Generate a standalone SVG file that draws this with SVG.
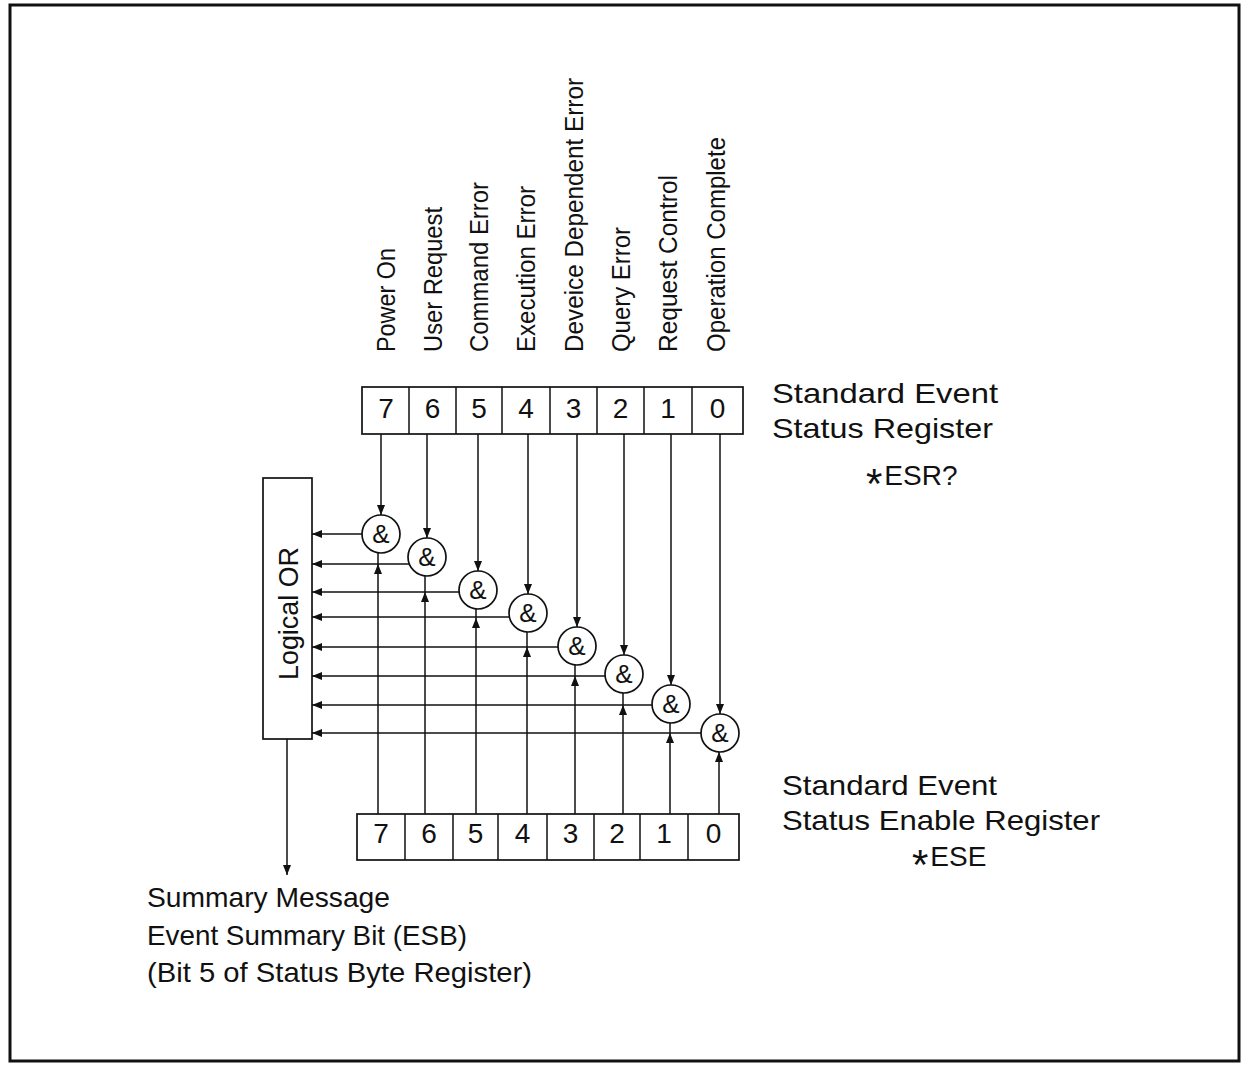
<svg xmlns="http://www.w3.org/2000/svg" width="1241" height="1067" viewBox="0 0 1241 1067">
<style>
text{font-family:"Liberation Sans",Arial,sans-serif;fill:#111}
.lbl{font-size:26px}
.big{font-size:28px}
.ast{font-size:42px}
.dig{font-size:28px;text-anchor:middle}
.amp{font-size:26px;text-anchor:middle}
.box{fill:#fff;stroke:#111;stroke-width:1.7}
.ln{fill:none;stroke:#111;stroke-width:1.5}
.arr{fill:none;stroke:#111;stroke-width:1.5;marker-end:url(#ah)}
</style>
<defs>
<marker id="ah" viewBox="0 0 10 8" refX="10" refY="4" markerWidth="10" markerHeight="8" orient="auto" markerUnits="userSpaceOnUse"><path d="M0,0 L10,4 L0,8 z" fill="#111"/></marker>
</defs>
<rect x="0" y="0" width="1241" height="1067" fill="#fff"/>
<rect id="frame" x="10" y="5" width="1229" height="1056" fill="none" stroke="#111" stroke-width="3"/>

<g id="labels">
<text class="lbl" transform="translate(395,352) rotate(-90)" textLength="104" lengthAdjust="spacingAndGlyphs">Power On</text>
<text class="lbl" transform="translate(442,352) rotate(-90)" textLength="145" lengthAdjust="spacingAndGlyphs">User Request</text>
<text class="lbl" transform="translate(488,352) rotate(-90)" textLength="170" lengthAdjust="spacingAndGlyphs">Command Error</text>
<text class="lbl" transform="translate(535,352) rotate(-90)" textLength="166" lengthAdjust="spacingAndGlyphs">Execution Error</text>
<text class="lbl" transform="translate(583,352) rotate(-90)" textLength="274" lengthAdjust="spacingAndGlyphs">Deveice Dependent Error</text>
<text class="lbl" transform="translate(630,352) rotate(-90)" textLength="125" lengthAdjust="spacingAndGlyphs">Query Error</text>
<text class="lbl" transform="translate(677,352) rotate(-90)" textLength="177" lengthAdjust="spacingAndGlyphs">Request Control</text>
<text class="lbl" transform="translate(725,352) rotate(-90)" textLength="215" lengthAdjust="spacingAndGlyphs">Operation Complete</text>
</g>

<g id="esr">
<rect class="box" x="362" y="387" width="381" height="47"/>
<path class="ln" d="M409,387V434M456,387V434M502,387V434M550,387V434M597,387V434M644,387V434M692,387V434"/>
<text class="dig" x="386" y="418">7</text>
<text class="dig" x="432.5" y="418">6</text>
<text class="dig" x="479" y="418">5</text>
<text class="dig" x="526" y="418">4</text>
<text class="dig" x="573.5" y="418">3</text>
<text class="dig" x="620.5" y="418">2</text>
<text class="dig" x="668" y="418">1</text>
<text class="dig" x="717.5" y="418">0</text>
<text class="big" x="772" y="403" textLength="226" lengthAdjust="spacingAndGlyphs">Standard Event</text>
<text class="big" x="772" y="438" textLength="221" lengthAdjust="spacingAndGlyphs">Status Register</text>
<text class="big" x="866" y="485"><tspan class="ast" dy="13">*</tspan><tspan dy="-13" dx="2">ESR?</tspan></text>
</g>

<g id="ese">
<rect class="box" x="357" y="814" width="382" height="46"/>
<path class="ln" d="M405,814V860M453,814V860M498,814V860M547,814V860M594,814V860M640,814V860M688,814V860"/>
<text class="dig" x="381" y="843">7</text>
<text class="dig" x="429" y="843">6</text>
<text class="dig" x="475.5" y="843">5</text>
<text class="dig" x="522.5" y="843">4</text>
<text class="dig" x="570.5" y="843">3</text>
<text class="dig" x="617" y="843">2</text>
<text class="dig" x="664" y="843">1</text>
<text class="dig" x="713.5" y="843">0</text>
<text class="big" x="782" y="795" textLength="215" lengthAdjust="spacingAndGlyphs">Standard Event</text>
<text class="big" x="782" y="830" textLength="318" lengthAdjust="spacingAndGlyphs">Status Enable Register</text>
<text class="big" x="912" y="866"><tspan class="ast" dy="13">*</tspan><tspan dy="-13" dx="2">ESE</tspan></text>
</g>

<g id="or">
<rect class="box" x="263" y="478" width="49" height="261"/>
<text class="big" transform="translate(298,680) rotate(-90)" textLength="133" lengthAdjust="spacingAndGlyphs">Logical OR</text>
</g>

<g id="gates">
<g id="g7"><circle class="box" cx="381" cy="534" r="19"/><text class="amp" x="381" y="543">&amp;</text></g>
<g id="g6"><circle class="box" cx="427" cy="557" r="19"/><text class="amp" x="427" y="566">&amp;</text></g>
<g id="g5"><circle class="box" cx="478" cy="590" r="19"/><text class="amp" x="478" y="599">&amp;</text></g>
<g id="g4"><circle class="box" cx="528" cy="613" r="19"/><text class="amp" x="528" y="622">&amp;</text></g>
<g id="g3"><circle class="box" cx="577" cy="646" r="19"/><text class="amp" x="577" y="655">&amp;</text></g>
<g id="g2"><circle class="box" cx="624" cy="674" r="19"/><text class="amp" x="624" y="683">&amp;</text></g>
<g id="g1"><circle class="box" cx="671" cy="704" r="19"/><text class="amp" x="671" y="713">&amp;</text></g>
<g id="g0"><circle class="box" cx="720" cy="733" r="19"/><text class="amp" x="720" y="742">&amp;</text></g>
</g>

<g id="connectors">
<path class="arr" d="M381,434V515"/>
<path class="arr" d="M427,434V538"/>
<path class="arr" d="M478,434V571"/>
<path class="arr" d="M528,434V594"/>
<path class="arr" d="M577,434V627"/>
<path class="arr" d="M624,434V655"/>
<path class="arr" d="M671,434V685"/>
<path class="arr" d="M720,434V714"/>
<path class="arr" d="M362,534H312"/>
<path class="arr" d="M409.3,564H312"/>
<path class="arr" d="M459.1,592H312"/>
<path class="arr" d="M509.4,617H312"/>
<path class="arr" d="M558,647H312"/>
<path class="arr" d="M605.1,676H312"/>
<path class="arr" d="M652,705H312"/>
<path class="arr" d="M701,733H312"/>
<path class="arr" d="M378,814V564"/><path class="ln" d="M378,564V552.8"/>
<path class="arr" d="M425,814V592"/><path class="ln" d="M425,592V575.9"/>
<path class="arr" d="M476,814V618"/><path class="ln" d="M476,618V608.9"/>
<path class="arr" d="M527,814V647"/><path class="ln" d="M527,647V632"/>
<path class="arr" d="M575,814V676"/><path class="ln" d="M575,676V664.9"/>
<path class="arr" d="M623,814V705"/><path class="ln" d="M623,705V693"/>
<path class="arr" d="M670,814V733"/><path class="ln" d="M670,733V723"/>
<path class="arr" d="M719,814V752"/>
<path class="arr" d="M287,739V875"/>
</g>

<g id="summary">
<text class="big" x="147" y="907" textLength="243" lengthAdjust="spacingAndGlyphs">Summary Message</text>
<text class="big" x="147" y="945" textLength="320" lengthAdjust="spacingAndGlyphs">Event Summary Bit (ESB)</text>
<text class="big" x="147" y="982" textLength="385" lengthAdjust="spacingAndGlyphs">(Bit 5 of Status Byte Register)</text>
</g>
</svg>
